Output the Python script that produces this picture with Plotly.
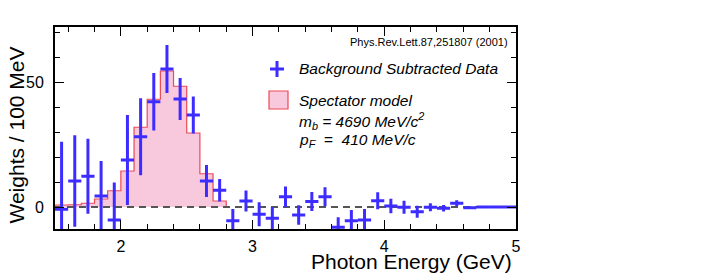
import plotly.graph_objects as go

# ---- data ----
bin_centers = [1.55, 1.65, 1.75, 1.85, 1.95, 2.05, 2.15, 2.25, 2.35, 2.45,
               2.55, 2.65, 2.75, 2.85, 2.95, 3.05, 3.15, 3.25, 3.35, 3.45,
               3.55, 3.65, 3.75, 3.85, 3.95, 4.05, 4.15, 4.25, 4.35, 4.45,
               4.55, 4.65, 4.75, 4.85, 4.95]
data_values = [-0.9, 10.4, 12.3, 4.4, -5.2, 18.8, 28.1, 42.1, 55.2, 43.2,
               36.8, 10.4, 6.7, -5.5, 2.4, -2.9, -4.5, 4.1, -3.2, 2.2,
               4.1, -8.1, -5.5, -5.2, 2.5, 0.4, -0.1, -1.9, -0.1, -0.5,
               1.5, -0.3, 0.0, 0.0, 0.0]
data_errors = [27.0, 18.3, 15.0, 14.0, 15.0, 18.0, 15.4, 11.5, 9.6, 8.4,
               7.4, 6.4, 4.5, 4.7, 4.2, 4.8, 4.5, 4.1, 3.9, 3.8,
               3.8, 4.0, 4.3, 4.4, 3.4, 2.9, 2.6, 2.4, 1.6, 1.3,
               1.2, 0.5, 0.2, 0.1, 0.1]
half_bin = 0.05

model_edges = [1.5, 1.6, 1.7, 1.8, 1.9, 2.0, 2.1, 2.2, 2.3, 2.4, 2.5, 2.6, 2.7, 2.8]
model_values = [0.8, 0.9, 1.5, 3.2, 6.5, 14.4, 31.9, 43.1, 54.4, 48.3, 29.6, 13.3, 2.4, 0.0]

x_range = [1.5, 5.0]
y_range = [-8.8, 72.0]
x_tickvals = [2, 3, 4, 5]
y_tickvals = [0, 50]

BLUE = "#3d2cff"
PINK = "#f8c8dc"
RED = "#ec4a57"
FONT = "Liberation Sans, Arial, Helvetica, sans-serif"

fig = go.Figure()

# Spectator model histogram
fig.add_trace(go.Scatter(
    x=model_edges, y=model_values, mode="lines", line_shape="hv",
    line=dict(color=RED, width=1.2), fill="tozeroy", fillcolor=PINK,
    hoverinfo="skip", showlegend=False))

# zero reference line
fig.add_trace(go.Scatter(
    x=x_range, y=[0, 0], mode="lines",
    line=dict(color="#555555", width=2, dash="7px,5px"),
    hoverinfo="skip", showlegend=False))

# Background subtracted data
fig.add_trace(go.Scatter(
    x=bin_centers, y=data_values, mode="markers",
    marker=dict(size=1, color=BLUE),
    error_y=dict(type="data", array=data_errors, visible=True,
                 color=BLUE, thickness=3, width=0),
    error_x=dict(type="constant", value=half_bin, visible=True,
                 color=BLUE, thickness=3, width=0),
    showlegend=False))

# page has an 8px body margin; the figure is sized so it ends at the window edge
OFF = 8
WIN_W, WIN_H = 706, 273
W, H = WIN_W - OFF, WIN_H - OFF
PL, PR, PT, PB = 55, 516, 27, 229   # plot area in window pixels
L, R, T, B = PL - OFF, WIN_W - PR, PT - OFF, WIN_H - PB
pw, ph = PR - PL, PB - PT

def px2paper(x, y):
    return (x - PL) / pw, (PB - y) / ph

axis_common = dict(
    showline=True, linecolor="black", linewidth=2, mirror="allticks",
    ticks="inside", ticklen=9, tickwidth=1, tickcolor="black",
    showgrid=False, zeroline=False,
    tickfont=dict(family=FONT, size=16, color="black"),
)

fig.update_layout(
    width=W, height=H,
    margin=dict(l=L, r=R, t=T, b=B),
    paper_bgcolor="white", plot_bgcolor="white",
    font=dict(family=FONT, color="black"),
    xaxis=dict(range=x_range, tickvals=x_tickvals, ticklabelstandoff=2,
               minor=dict(dtick=0.2, tick0=0, ticks="inside", ticklen=5,
                          tickcolor="black", tickwidth=1),
               **axis_common),
    yaxis=dict(range=y_range, tickvals=y_tickvals, ticklabelstandoff=6,
               minor=dict(dtick=10, tick0=0, ticks="inside", ticklen=5,
                          tickcolor="black", tickwidth=1),
               **axis_common),
)

ann = []
# axis titles
x0, y0 = px2paper(514, 262)
ann.append(dict(text="Photon Energy (GeV)", x=x0, y=y0, xanchor="right",
                yanchor="middle", font=dict(size=21, family=FONT)))
x0, y0 = px2paper(2, 135)
ann.append(dict(text="Weights / 100 MeV", x=x0, y=y0, xanchor="left",
                yanchor="middle", textangle=-90, font=dict(size=21, family=FONT)))
# reference
x0, y0 = px2paper(510, 42)
ann.append(dict(text="Phys.Rev.Lett.87,251807 (2001)", x=x0, y=y0,
                xanchor="right", yanchor="middle", font=dict(size=11, family=FONT)))
# legend texts
for txt, py in [("<i>Background Subtracted Data</i>", 69),
                ("<i>Spectator model</i>", 100),
                ("<i>m<sub>b</sub> = 4690 MeV/c<sup>2</sup></i>", 121),
                ("<i>p<sub>F</sub>  =  410 MeV/c</i>", 140)]:
    x0, y0 = px2paper(297, py)
    ann.append(dict(text=txt, x=x0, y=y0, xanchor="left", yanchor="middle",
                    font=dict(size=15.5, family=FONT)))
for a in ann:
    a.update(xref="paper", yref="paper", showarrow=False)
fig.update_layout(annotations=ann)

shapes = []
# legend cross
cx, cy = 277, 69
for (xa, ya, xb, yb) in [(cx - 7, cy, cx + 7, cy), (cx, cy - 8, cx, cy + 8)]:
    p0 = px2paper(xa, ya); p1 = px2paper(xb, yb)
    shapes.append(dict(type="line", xref="paper", yref="paper",
                       x0=p0[0], y0=p0[1], x1=p1[0], y1=p1[1],
                       line=dict(color=BLUE, width=3)))
# legend box
p0 = px2paper(269, 91); p1 = px2paper(288, 109)
shapes.append(dict(type="rect", xref="paper", yref="paper",
                   x0=p0[0], y0=p0[1], x1=p1[0], y1=p1[1],
                   fillcolor=PINK, line=dict(color=RED, width=1.2)))
fig.update_layout(shapes=shapes)

fig.write_html("out.html")
